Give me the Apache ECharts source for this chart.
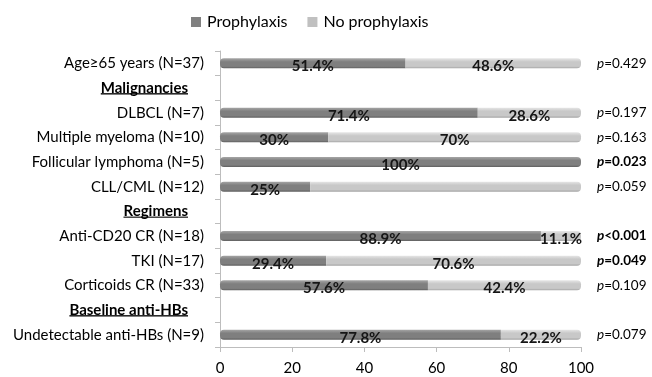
<!DOCTYPE html>
<html><head><meta charset="utf-8">
<script src="https://cdn.jsdelivr.net/npm/echarts@6/dist/echarts.min.js"></script>
<style>html,body{margin:0;padding:0;background:#fff}#c{width:652px;height:377px}</style>
</head><body><div id="c"></div>
<script>
const categories = ['Age≥65 years (N=37)', 'Malignancies', 'DLBCL (N=7)', 'Multiple myeloma (N=10)', 'Follicular lymphoma (N=5)', 'CLL/CML (N=12)', 'Regimens', 'Anti-CD20 CR (N=18)', 'TKI (N=17)', 'Corticoids CR (N=33)', 'Baseline anti-HBs', 'Undetectable anti-HBs (N=9)'];
const headers = ['Malignancies', 'Regimens', 'Baseline anti-HBs'];
const prophylaxis = [51.4, null, 71.4, 30, 100, 25, null, 88.9, 29.4, 57.6, null, 77.8];
const noProphylaxis = [48.6, null, 28.6, 70, 0, 75, null, 11.1, 70.6, 42.4, null, 22.2];
const noProphHiddenLabels = [4, 5];
const pValues = ['=0.429', '', '=0.197', '=0.163', '=0.023', '=0.059', '', '<0.001', '=0.049', '=0.109', '', '=0.079'];
const pSignificant = [false, false, false, false, true, false, false, true, true, false, false, false];
const xTicks = [0, 20, 40, 60, 80, 100];

const FONT = 'Lato';
function underlineImage() {
  const c = document.createElement('canvas'); c.width = 4; c.height = 20;
  const ctx = c.getContext('2d'); ctx.fillStyle = '#000'; ctx.fillRect(0, 17, 4, 1.6);
  return c;
}
const ul = underlineImage();
const grad = (a, b, c) => new echarts.graphic.LinearGradient(0, 0, 0, 1, [
  {offset: 0, color: a}, {offset: 0.35, color: b}, {offset: 0.8, color: b}, {offset: 1, color: c}]);
const darkFill = grad('#a6a6a6', '#7f7f7f', '#5e5e5e');
const lightFill = grad('#e6e6e6', '#c8c8c8', '#a4a4a4');

const chart = echarts.init(document.getElementById('c'));
chart.setOption({
  animation: false,
  textStyle: {fontFamily: FONT},
  legend: {
    top: 9, left: 186, itemWidth: 10, itemHeight: 10, itemGap: 20,
    icon: 'rect',
    textStyle: {fontSize: 16, color: '#000', fontFamily: FONT, padding: [0, 0, 0, 1]},
    data: [{name: 'Prophylaxis', itemStyle: {color: '#808080'}}, {name: 'No prophylaxis', itemStyle: {color: '#c0c0c0'}}]
  },
  grid: {left: 220, right: 71, top: 51, bottom: 30},
  xAxis: {
    type: 'value', min: 0, max: 100, interval: 20,
    axisLine: {show: true, lineStyle: {color: '#bdbdbd'}},
    axisTick: {show: true, length: 5, lineStyle: {color: '#bdbdbd'}},
    splitLine: {show: false},
    axisLabel: {fontSize: 15, color: '#000', margin: 14, fontFamily: FONT,
      formatter: v => xTicks.includes(v) ? String(v) : ''}
  },
  yAxis: [{
    type: 'category', inverse: true, data: categories,
    axisLine: {show: true, lineStyle: {color: '#bdbdbd'}},
    axisTick: {show: true, length: 5, lineStyle: {color: '#bdbdbd'}},
    axisLabel: {
      fontSize: 15, color: '#000', margin: 16, fontFamily: FONT,
      formatter: v => headers.includes(v) ? '{h|' + v + '}{sp|}' : v,
      rich: {
        h: {fontSize: 15, fontWeight: 'bold', color: '#000', fontFamily: FONT, lineHeight: 20,
          backgroundColor: {image: ul}},
        sp: {width: 16}
      }
    }
  }, {
    type: 'category', inverse: true, position: 'right', data: categories,
    axisLine: {show: false}, axisTick: {show: false},
    axisLabel: {
      margin: 16, fontSize: 13.5, color: '#000', fontFamily: FONT,
      formatter: (v, i) => pValues[i] === '' ? '' :
        (pSignificant[i] ? '{bi|p}{b|' + pValues[i] + '}' : '{i|p}{n|' + pValues[i] + '}'),
      rich: {
        i: {fontStyle: 'italic', fontSize: 13.5, color: '#000', fontFamily: FONT},
        n: {fontSize: 13.5, color: '#000', fontFamily: FONT},
        bi: {fontStyle: 'italic', fontWeight: 'bold', fontSize: 13.5, color: '#000', fontFamily: FONT},
        b: {fontWeight: 'bold', fontSize: 13.5, color: '#000', fontFamily: FONT}
      }
    }
  }],
  series: [{
    name: 'Prophylaxis', type: 'bar', stack: 'a', barWidth: 10,
    itemStyle: {color: darkFill, borderRadius: [4, 0, 0, 4]},
    label: {show: true, position: 'inside', offset: [0, 3], fontSize: 15, fontWeight: 'bold', color: '#151515', fontFamily: FONT,
      formatter: p => p.value == null ? '' : p.value + '%'},
    data: prophylaxis.map((v, i) => (v === 100 ? {value: v, itemStyle: {borderRadius: 4}} : v))
  }, {
    name: 'No prophylaxis', type: 'bar', stack: 'a', barWidth: 10,
    itemStyle: {color: lightFill, borderRadius: [0, 4, 4, 0]},
    label: {show: true, position: 'inside', offset: [0, 3], fontSize: 15, fontWeight: 'bold', color: '#151515', fontFamily: FONT,
      formatter: p => (p.value == null || p.value === 0) ? '' : p.value + '%'},
    data: noProphylaxis.map((v, i) => noProphHiddenLabels.includes(i) ? {value: v, label: {show: false}} : v)
  }]
});
</script></body></html>
